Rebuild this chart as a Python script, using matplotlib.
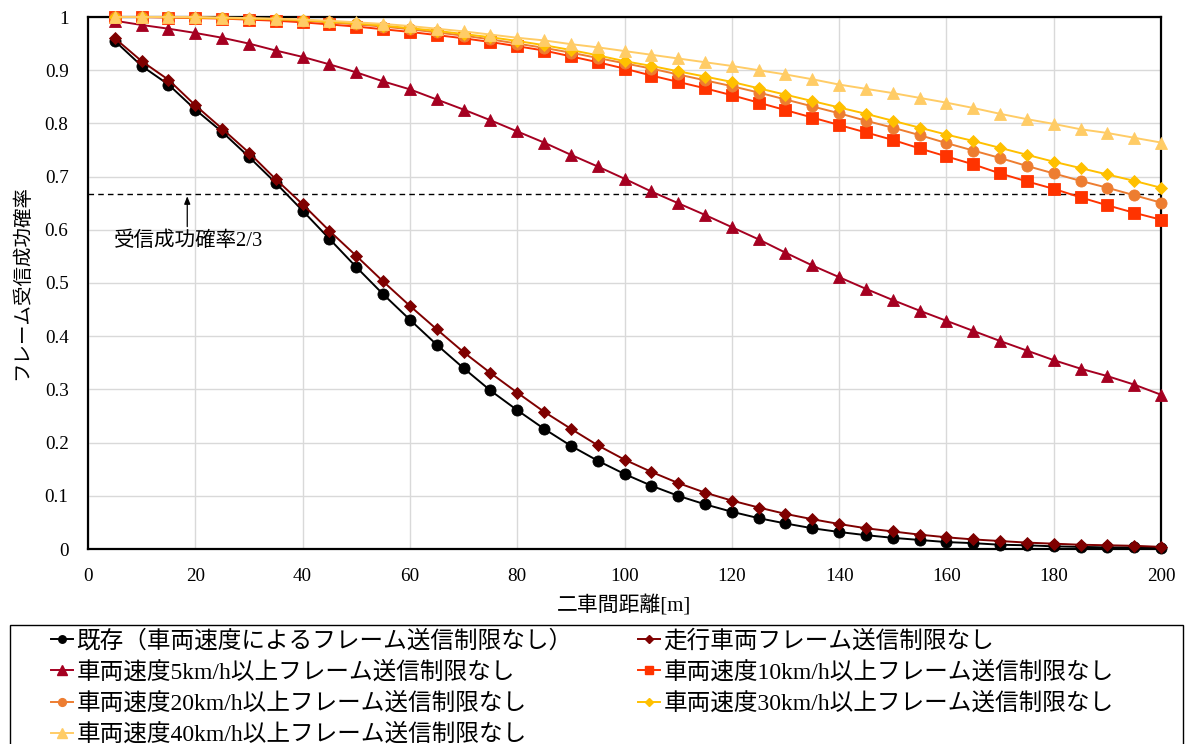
import matplotlib
matplotlib.use("Agg")
import matplotlib.pyplot as plt
from matplotlib.lines import Line2D
from matplotlib.patches import Rectangle
from matplotlib.ticker import FuncFormatter, MultipleLocator

plt.rcParams['font.family'] = ['Liberation Serif', 'Noto Sans CJK JP']

# 車間距離 [m]
distance = [5, 10, 15, 20, 25, 30, 35, 40, 45, 50, 55, 60, 65, 70, 75, 80, 85, 90, 95, 100,
            105, 110, 115, 120, 125, 130, 135, 140, 145, 150, 155, 160, 165, 170, 175, 180,
            185, 190, 195, 200]

existing = [0.955, 0.908, 0.873, 0.826, 0.784, 0.737, 0.688, 0.636, 0.583, 0.530,
            0.479, 0.431, 0.384, 0.340, 0.298, 0.261, 0.226, 0.194, 0.166, 0.141,
            0.119, 0.100, 0.084, 0.070, 0.058, 0.048, 0.039, 0.032, 0.026, 0.021,
            0.017, 0.013, 0.011, 0.008, 0.007, 0.005, 0.004, 0.003, 0.003, 0.002]

moving = [0.960, 0.917, 0.882, 0.834, 0.790, 0.745, 0.695, 0.648, 0.598, 0.551,
          0.503, 0.457, 0.413, 0.370, 0.331, 0.294, 0.258, 0.226, 0.195, 0.168,
          0.145, 0.124, 0.106, 0.091, 0.078, 0.066, 0.056, 0.047, 0.039, 0.033,
          0.027, 0.022, 0.018, 0.015, 0.012, 0.010, 0.008, 0.007, 0.006, 0.004]

speed5 = [0.993, 0.985, 0.978, 0.970, 0.961, 0.950, 0.937, 0.925, 0.911, 0.896,
          0.879, 0.864, 0.845, 0.826, 0.806, 0.785, 0.764, 0.741, 0.719, 0.696,
          0.672, 0.650, 0.628, 0.605, 0.582, 0.557, 0.533, 0.511, 0.489, 0.468,
          0.448, 0.429, 0.410, 0.391, 0.373, 0.355, 0.339, 0.325, 0.309, 0.290]

speed10 = [1.000, 1.000, 0.999, 0.998, 0.997, 0.995, 0.993, 0.990, 0.986, 0.982,
           0.977, 0.972, 0.966, 0.960, 0.953, 0.945, 0.937, 0.926, 0.915, 0.903,
           0.890, 0.878, 0.866, 0.853, 0.839, 0.825, 0.811, 0.797, 0.783, 0.769,
           0.753, 0.738, 0.723, 0.706, 0.691, 0.677, 0.661, 0.646, 0.632, 0.619]

speed20 = [1.000, 1.000, 1.000, 0.999, 0.998, 0.997, 0.995, 0.993, 0.990, 0.986,
           0.982, 0.977, 0.971, 0.965, 0.958, 0.950, 0.942, 0.933, 0.923, 0.913,
           0.903, 0.892, 0.881, 0.870, 0.858, 0.845, 0.832, 0.819, 0.805, 0.792,
           0.778, 0.763, 0.749, 0.735, 0.720, 0.706, 0.692, 0.679, 0.665, 0.651]

speed30 = [1.000, 1.000, 1.000, 0.999, 0.998, 0.997, 0.996, 0.994, 0.991, 0.988,
           0.984, 0.979, 0.974, 0.968, 0.962, 0.955, 0.947, 0.938, 0.928, 0.917,
           0.908, 0.898, 0.888, 0.878, 0.866, 0.854, 0.842, 0.830, 0.818, 0.805,
           0.792, 0.779, 0.767, 0.754, 0.741, 0.728, 0.716, 0.704, 0.692, 0.679]

speed40 = [1.000, 1.000, 1.000, 1.000, 0.999, 0.998, 0.997, 0.995, 0.993, 0.990,
           0.987, 0.983, 0.978, 0.973, 0.967, 0.961, 0.956, 0.949, 0.943, 0.936,
           0.929, 0.922, 0.915, 0.908, 0.900, 0.892, 0.883, 0.873, 0.865, 0.857,
           0.848, 0.839, 0.829, 0.818, 0.808, 0.799, 0.789, 0.782, 0.773, 0.764]

labels = ['既存（車両速度によるフレーム送信制限なし）',
          '走行車両フレーム送信制限なし',
          '車両速度5km/h以上フレーム送信制限なし',
          '車両速度10km/h以上フレーム送信制限なし',
          '車両速度20km/h以上フレーム送信制限なし',
          '車両速度30km/h以上フレーム送信制限なし',
          '車両速度40km/h以上フレーム送信制限なし']

threshold = 2 / 3

series = [existing, moving, speed5, speed10, speed20, speed30, speed40]
colors = ['#000000', '#7F0000', '#A50021', '#FF3300', '#ED7D31', '#FFC000', '#FFCC66']
markers = ['o', 'D', '^', 's', 'o', 'D', '^']
msizes = [8.0, 6.0, 9.0, 8.0, 8.0, 6.2, 9.2]
leg_msizes = [5.4, 4.2, 6.5, 5.8, 5.6, 4.4, 6.5]

W, H = 1186, 744
fig = plt.figure(figsize=(W / 100, H / 100), dpi=100)
ax = fig.add_axes([88 / W, 1 - 549 / H, (1161 - 88) / W, (549 - 17) / H])

for ys, c, m, ms in zip(series, colors, markers, msizes):
    ax.plot(distance, ys, color=c, lw=1.4, marker=m, markersize=ms,
            markerfacecolor=c, markeredgecolor=c, markeredgewidth=0.6,
            clip_on=False, zorder=3)

ax.axhline(threshold, color='black', lw=1.0, ls=(0, (4, 3)), zorder=2)

ax.annotate('', xy=(18.5, 0.663), xytext=(18.5, 0.606),
            arrowprops=dict(arrowstyle='-|>,head_length=0.45,head_width=0.18',
                            color='black', lw=0.9, shrinkA=0, shrinkB=0))
ax.text(4.8, 0.578, '受信成功確率2/3', fontsize=14.8, va='center', ha='left')

ax.set_xlim(0, 200)
ax.set_ylim(0, 1)
ax.xaxis.set_major_locator(MultipleLocator(20))
ax.yaxis.set_major_locator(MultipleLocator(0.1))
ax.yaxis.set_major_formatter(FuncFormatter(lambda v, p: f'{v:.1f}'.rstrip('0').rstrip('.') if v not in (0, 1) else f'{int(round(v))}'))
ax.grid(True, color='#D9D9D9', lw=1.0, zorder=0)
ax.set_axisbelow(True)
ax.tick_params(axis='both', length=0, labelsize=13.8)
ax.tick_params(axis='x', pad=14)
ax.tick_params(axis='y', pad=14)
for s in ax.spines.values():
    s.set_linewidth(1.6)
    s.set_color('black')

ax.set_xlabel('二車間距離[m]', fontsize=15, labelpad=7)
ax.set_ylabel('フレーム受信成功確率', fontsize=14, labelpad=10)

# legend frame spanning the figure width
fig.patches.append(Rectangle((10 / W, -0.05), (1183 - 10) / W, (H - 625) / H + 0.05,
                             transform=fig.transFigure, fill=False,
                             edgecolor='black', lw=1.0))

handles = [Line2D([], [], color=c, lw=1.4, marker=m, markersize=ms,
                  markerfacecolor=c, markeredgecolor=c)
           for c, m, ms in zip(colors, markers, leg_msizes)]

common = dict(loc='upper left', frameon=False, borderpad=0, borderaxespad=0,
              handlelength=0.95, handletextpad=0.12, labelspacing=0.37,
              prop={'size': 17})
left_idx = [0, 2, 4, 6]
right_idx = [1, 3, 5]
fig.legend([handles[i] for i in left_idx], [labels[i] for i in left_idx],
           bbox_to_anchor=(51 / W, 1 - 630 / H), **common)
fig.legend([handles[i] for i in right_idx], [labels[i] for i in right_idx],
           bbox_to_anchor=(638 / W, 1 - 630 / H), **common)

fig.savefig('out.png', dpi=100)
